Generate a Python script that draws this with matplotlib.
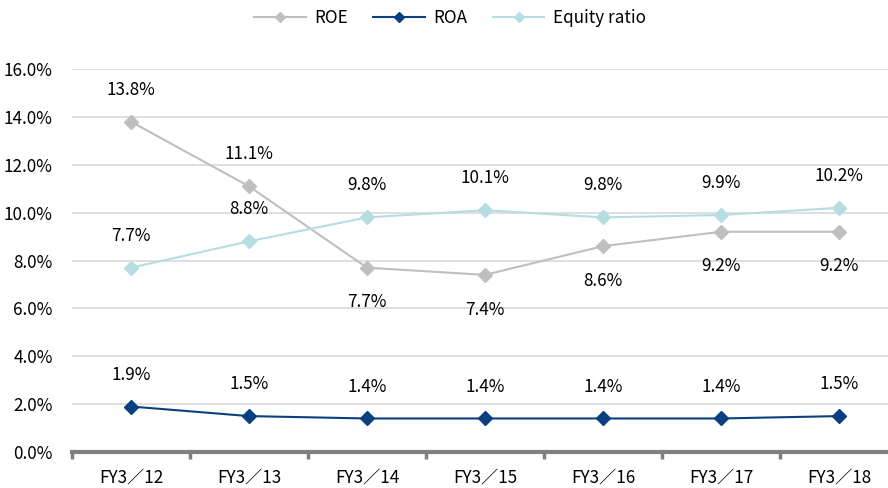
import matplotlib
matplotlib.use("Agg")
import matplotlib.pyplot as plt
from matplotlib.ticker import FixedLocator

plt.rcParams['font.family'] = ['Noto Sans CJK JP', 'DejaVu Sans']

categories = ["FY3／12", "FY3／13", "FY3／14", "FY3／15", "FY3／16", "FY3／17", "FY3／18"]
roe = [13.8, 11.1, 7.7, 7.4, 8.6, 9.2, 9.2]
roa = [1.9, 1.5, 1.4, 1.4, 1.4, 1.4, 1.5]
equity = [7.7, 8.8, 9.8, 10.1, 9.8, 9.9, 10.2]
roe_label_above = [True, True, False, False, False, False, False]

c_roe = "#BFBFBF"
c_roa = "#0A3F82"
c_eq = "#B5DDE2"

fig = plt.figure(figsize=(8.88, 4.88), dpi=100)
ax = fig.add_axes([72/888, 36/488, 826/888, 383/488])
x = list(range(len(categories)))

ax.plot(x, roe, color=c_roe, marker="D", markersize=7, lw=1.5, label="ROE", zorder=3)
ax.plot(x, roa, color=c_roa, marker="D", markersize=7, lw=1.5, label="ROA", zorder=3)
ax.plot(x, equity, color=c_eq, marker="D", markersize=7, lw=1.5, label="Equity ratio", zorder=3)

fs = 12.3
for i, v in enumerate(roe):
    off = 23 if roe_label_above[i] else -25
    ax.annotate(f"{v:.1f}%", (i, v), xytext=(0, off), textcoords="offset points",
                ha="center", va="center", fontsize=fs)
for i, v in enumerate(equity):
    ax.annotate(f"{v:.1f}%", (i, v), xytext=(0, 23), textcoords="offset points",
                ha="center", va="center", fontsize=fs)
for i, v in enumerate(roa):
    ax.annotate(f"{v:.1f}%", (i, v), xytext=(0, 23), textcoords="offset points",
                ha="center", va="center", fontsize=fs)

ax.set_xlim(-0.5, 6.5)
ax.set_ylim(0, 16)
ax.set_yticks([0, 2, 4, 6, 8, 10, 12, 14, 16])
ax.set_yticklabels([f"{t:.1f}%" for t in [0, 2, 4, 6, 8, 10, 12, 14, 16]], fontsize=fs)
ax.set_xticks(x)
ax.set_xticklabels(categories, fontsize=fs)
ax.xaxis.set_minor_locator(FixedLocator([i - 0.5 for i in range(len(categories) + 1)]))
ax.tick_params(axis="x", which="major", length=0, pad=12)
ax.tick_params(axis="x", which="minor", length=5, width=2.5, color="#808080", direction="out")
ax.tick_params(axis="y", length=0, pad=14)
ax.grid(axis="y", color="#D9D9D9", lw=1.2)
ax.set_axisbelow(True)
for s in ["top", "right", "left"]:
    ax.spines[s].set_visible(False)
ax.spines["bottom"].set_color("#808080")
ax.spines["bottom"].set_linewidth(3)
ax.spines["bottom"].set_zorder(4)

fig.legend(loc="center", bbox_to_anchor=(450/888, 1 - 18/488), ncol=3, frameon=False,
           fontsize=fs, handlelength=3.0, markerscale=0.75, columnspacing=1.5, handletextpad=0.5)

fig.savefig("out.png", dpi=100)
